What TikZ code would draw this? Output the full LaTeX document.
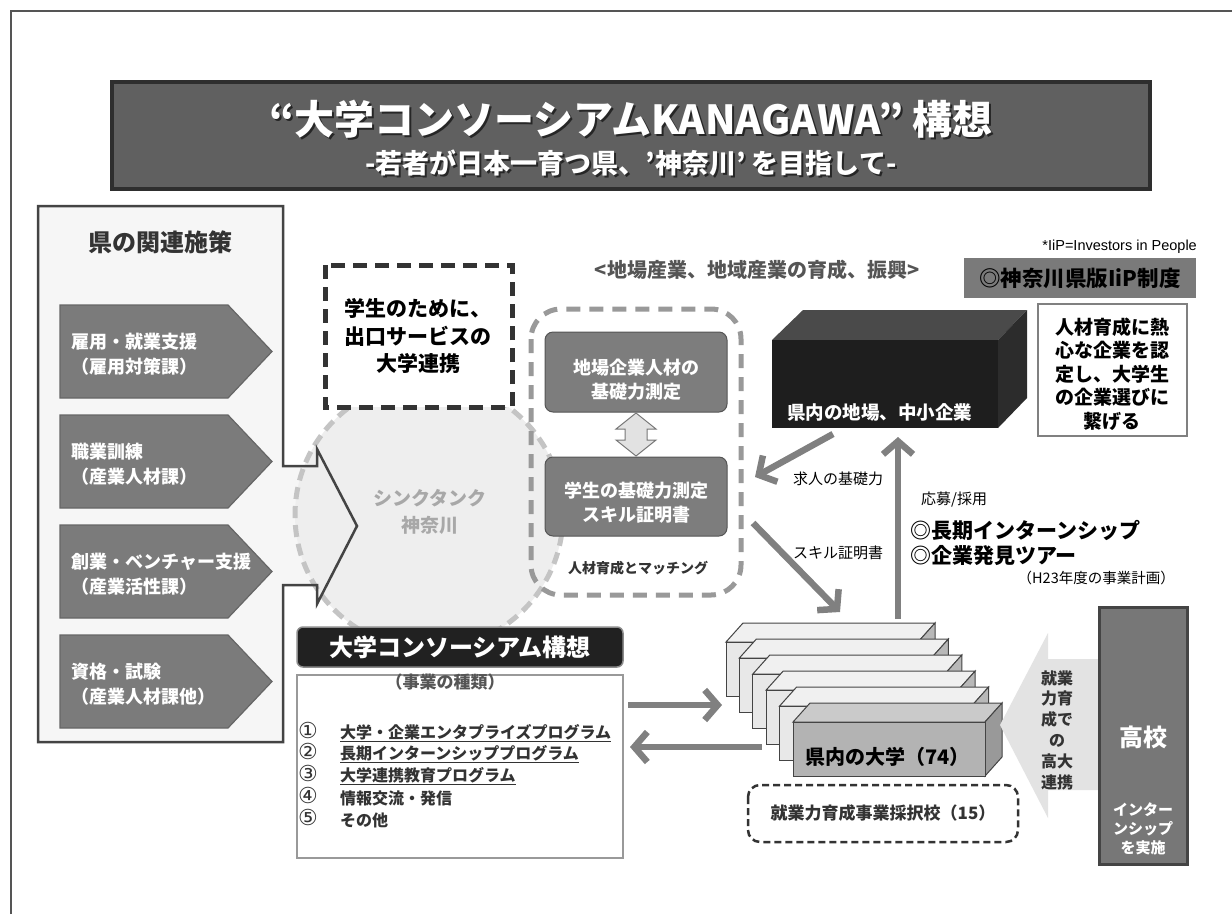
\documentclass[tikz,border=0pt]{standalone}
\usepackage{fontspec}
\setmainfont{Noto Sans CJK JP}
\newfontfamily\arialfont{Liberation Sans}
\newfontfamily\dejavufont{DejaVu Sans}
\usetikzlibrary{arrows.meta}
\newcommand{\myfs}[2]{\fontsize{#1}{#2}\selectfont}
\definecolor{framec}{HTML}{555555}
\definecolor{titlefill}{HTML}{606060}
\definecolor{titledraw}{HTML}{2E2E2E}
\definecolor{panelfill}{HTML}{F6F6F6}
\definecolor{paneldraw}{HTML}{444444}
\definecolor{pentfill}{HTML}{7B7B7B}
\definecolor{pentdraw}{HTML}{666666}
\definecolor{circfill}{HTML}{EEEEEE}
\definecolor{circdraw}{HTML}{C4C4C4}
\definecolor{circtext}{HTML}{A8A8A8}
\definecolor{rbdraw}{HTML}{999999}
\definecolor{innerfill}{HTML}{7D7D7D}
\definecolor{innerdraw}{HTML}{555555}
\definecolor{dblfill}{HTML}{E2E2E2}
\definecolor{dbldraw}{HTML}{777777}
\definecolor{arrc}{HTML}{808080}
\definecolor{darkgray}{HTML}{333333}
\definecolor{midgray}{HTML}{555555}
\definecolor{boxfront}{HTML}{1E1E1E}
\definecolor{boxtop}{HTML}{4A4A4A}
\definecolor{boxside}{HTML}{2C2C2C}
\definecolor{iipfill}{HTML}{7A7A7A}
\definecolor{ufront}{HTML}{E8E8E8}
\definecolor{utop}{HTML}{F0F0F0}
\definecolor{uside}{HTML}{B8B8B8}
\definecolor{u5front}{HTML}{B3B3B3}
\definecolor{u5top}{HTML}{CACACA}
\definecolor{u5side}{HTML}{999999}
\definecolor{larrow}{HTML}{E3E3E3}
\definecolor{kokofill}{HTML}{777777}
\tikzset{
  txt/.style={inner sep=0pt},
  pentshape/.style={fill=pentfill, draw=pentdraw, line width=1.2},
  penttext/.style={anchor=west, inner sep=0pt, text=white, font=\bfseries\myfs{18}{22}},
  bigarrow/.style={draw=arrc, line width=6.5, -{Straight Barb[length=13pt,width=30pt]}},
  smalllabel/.style={inner sep=0pt, font=\myfs{15}{18}, text=black},
  ubox/.style={draw=paneldraw, line width=1},
}
\begin{document}
\begin{tikzpicture}[x=1pt,y=-1pt]
\useasboundingbox (0,0) rectangle (1232,914);
\fill[white] (0,0) rectangle (1232,914);
\draw[framec, line width=2] (11,914) -- (11,11) -- (1232,11);

% title
\draw[fill=titlefill, draw=titledraw, line width=4] (112,82) rectangle (1150,189);
\node[txt, text=black!85, font=\bfseries\myfs{40}{44}] (titlesh) at (633,121) {“大学コンソーシアムKANAGAWA” 構想};
\node[txt, text=white, font=\bfseries\myfs{40}{44}] (title) at (631,119) {“大学コンソーシアムKANAGAWA” 構想};
\node[txt, text=black!85, font=\bfseries\myfs{27}{30}] (subsh) at (633,165) {-若者が日本一育つ県、’神奈川’ を目指して-};
\node[txt, text=white, font=\bfseries\myfs{27}{30}] (sub) at (631,163) {-若者が日本一育つ県、’神奈川’ を目指して-};

% left panel
\fill[panelfill] (38,206) -- (283,206) -- (283,466) -- (317,466) -- (317,449) -- (357,526) -- (317,604) -- (317,585) -- (283,585) -- (283,742) -- (38,742) -- cycle;

% think tank circle
\draw[fill=circfill, draw=circdraw, line width=5, dash pattern=on 12pt off 7pt] (429,515) circle [radius=134];
\node[txt, text=circtext, font=\bfseries\myfs{19}{22}] (tt1) at (430,498) {シンクタンク};
\node[txt, text=circtext, font=\bfseries\myfs{19}{22}] (tt2) at (430,525) {神奈川};

\draw[paneldraw, line width=2.5, line join=miter] (38,206) -- (283,206) -- (283,466) -- (317,466) -- (317,449) -- (357,526) -- (317,604) -- (317,585) -- (283,585) -- (283,742) -- (38,742) -- cycle;
\node[txt, text=darkgray, font=\bfseries\myfs{24}{28}] (panelt) at (160,242) {県の関連施策};

\foreach \t/\la/\lb [count=\i] in {305/雇用・就業支援/（雇用対策課）, 415/職業訓練/（産業人材課）, 525/創業・ベンチャー支援/（産業活性課）, 635/資格・試験/（産業人材課他）} {
  \draw[pentshape] (60,\t) -- (228,\t) -- (272,\t+46.5) -- (228,\t+93) -- (60,\t+93) -- cycle;
  \node[penttext] (pa\i) at (71,\t+37) {\la};
  \node[penttext] (pb\i) at (71,\t+62) {\lb};
}

% exit service dashed box
\draw[fill=white, draw=darkgray, line width=5, dash pattern=on 14pt off 8pt] (325,265) rectangle (512,407);
\node[txt, align=center, text=black, font=\bfseries\myfs{21}{27.5}] (exitsvc) at (418,336) {学生のために、\\出口サービスの\\大学連携};

% heading
\node[txt, text=midgray, font=\bfseries\myfs{20}{24}] (jiba) at (757,270) {<地場産業、地域産業の育成、振興>};

% rounded dashed box
\draw[draw=rbdraw, line width=5, rounded corners=30, dash pattern=on 14pt off 9pt] (531,309) rectangle (741,595);
\draw[fill=innerfill, draw=innerdraw, line width=1, rounded corners=8] (545,332) rectangle (727,412);
\node[txt, align=center, text=white, font=\bfseries\myfs{18}{24}] (inner1) at (636,380) {地場企業人材の\\基礎力測定};
\draw[fill=innerfill, draw=innerdraw, line width=1, rounded corners=8] (545,457) rectangle (727,536);
\node[txt, align=center, text=white, font=\bfseries\myfs{18}{24}] (inner2) at (636,503) {学生の基礎力測定\\スキル証明書};
\draw[fill=dblfill, draw=dbldraw, line width=1] (636,413) -- (656,429) -- (647,429) -- (647,440) -- (656,440) -- (636,456) -- (616,440) -- (625,440) -- (625,429) -- (616,429) -- cycle;
\node[txt, text=darkgray, font=\bfseries\myfs{14}{16}] (match) at (638,568) {人材育成とマッチング};

% black 3D box
\fill[boxtop] (772,340) -- (803,310) -- (1027,310) -- (998,340) -- cycle;
\fill[boxside] (998,340) -- (1027,310) -- (1027,398) -- (998,428) -- cycle;
\fill[boxfront] (772,340) rectangle (998,428);
\node[txt, anchor=west, text=white, font=\bfseries\myfs{18.5}{22}] (kigyo) at (787,412) {県内の地場、中小企業};

% IiP
\node[txt, anchor=east, font=\arialfont\myfs{14.5}{17}] (iipnote) at (1197,247) {*IiP=Investors in People};
\fill[iipfill] (964,258) rectangle (1196,298);
\node[txt, text=black, font=\bfseries\myfs{21.5}{25}] (iip) at (1080,278) {◎神奈川県版IiP制度};
\draw[fill=white, draw=black!50, line width=2] (1038,304) rectangle (1187,436);
\node[txt, align=center, text=black, font=\bfseries\myfs{19}{23.5}] (nintei) at (1112,374) {人材育成に熱\\心な企業を認\\定し、大学生\\の企業選びに\\繋げる};

% arrows middle
\coordinate (a1s) at (833,434);
\coordinate (a1e) at (755,477);
\draw[bigarrow] (a1s) -- (a1e);
\node[smalllabel] (lbl1) at (838,479) {求人の基礎力};
\coordinate (a2s) at (753,523);
\coordinate (a2e) at (840,612);
\draw[bigarrow] (a2s) -- (a2e);
\node[smalllabel] (lbl2) at (838,553) {スキル証明書};
\coordinate (a3s) at (898,619);
\coordinate (a3e) at (898,437);
\draw[bigarrow] (a3s) -- (a3e);
\node[smalllabel, anchor=west] (lbl3) at (921,500) {応募/採用};
\node[txt, anchor=west, text=black, font=\bfseries\myfs{21}{25}] (intern) at (910,530) {◎長期インターンシップ};
\node[txt, anchor=west, text=black, font=\bfseries\myfs{21}{25}] (tour) at (910,556) {◎企業発見ツアー};
\node[txt, anchor=east, font=\myfs{14.5}{17}] (h23) at (1175,578) {（H23年度の事業計画）};

% universities stack
\foreach \i in {0,...,4} {
  \pgfmathsetmacro{\ux}{726+13.4*\i}
  \pgfmathsetmacro{\uy}{642+16*\i}
  \draw[ubox, fill=utop] (\ux,\uy) -- (\ux+17,\uy-19) -- (\ux+209,\uy-19) -- (\ux+192,\uy) -- cycle;
  \draw[ubox, fill=uside] (\ux+192,\uy) -- (\ux+209,\uy-19) -- (\ux+209,\uy+35) -- (\ux+192,\uy+54) -- cycle;
  \draw[ubox, fill=ufront] (\ux,\uy) rectangle (\ux+192,\uy+54);
}
\draw[ubox, fill=u5top] (793,722) -- (810,703) -- (1002,703) -- (985,722) -- cycle;
\draw[ubox, fill=u5side] (985,722) -- (1002,703) -- (1002,757) -- (985,776) -- cycle;
\draw[ubox, fill=u5front] (793,722) rectangle (985,776);
\node[txt, anchor=west, text=black, font=\bfseries\myfs{20}{24}] (univ) at (805,757) {県内の大学（74）};

\draw[draw=darkgray, line width=2.5, rounded corners=12, dash pattern=on 7pt off 4pt] (748,785) rectangle (1018,842);
\node[txt, text=darkgray, font=\bfseries\myfs{17}{20}] (saitaku) at (883,813) {就業力育成事業採択校（15）};

% high school arrow and box
\fill[larrow] (1099,659) -- (1048,659) -- (1048,633) -- (1000,725) -- (1048,818) -- (1048,790) -- (1099,790) -- cycle;
\node[txt, align=center, text=darkgray, font=\bfseries\myfs{16}{20.8}] (kodai) at (1057,730) {就業\\力育\\成で\\の\\高大\\連携};
\draw[fill=kokofill, draw=paneldraw, line width=3] (1099,607) rectangle (1187,864);
\node[txt, text=white, font=\bfseries\myfs{24}{28}] (koko) at (1143,737) {高校};
\node[txt, align=center, text=white, font=\bfseries\myfs{15}{19}] (kokoint) at (1143,829) {インター\\ンシップ\\を実施};

% consortium list
\draw[fill=black!87, draw=black!45, line width=1.5, rounded corners=6] (297,627) rectangle (623,667);
\node[txt, text=white, font=\bfseries\myfs{24}{28}] (cons) at (460,647) {大学コンソーシアム構想};
\draw[fill=white, draw=black!40, line width=1.5] (297,675) rectangle (623,858);
\node[txt, text=midgray, font=\bfseries\myfs{17}{20}] (shurui) at (445,682) {（事業の種類）};
\foreach \n/\s/\y [count=\i] in {①/\underline{大学・企業エンタプライズプログラム}/733, ②/\underline{長期インターンシッププログラム}/754, ③/\underline{大学連携教育プログラム}/776, ④/情報交流・発信/798, ⑤/その他/820} {
  \node[txt, anchor=west, text=darkgray, font=\dejavufont\myfs{22}{24}, text height=14pt, text depth=3pt] (num\i) at (298,\y) {\n};
  \node[txt, anchor=west, text=darkgray, font=\bfseries\myfs{16}{20}] (item\i) at (340,\y) {\s};
}

% arrows list <-> universities
\coordinate (a4s) at (628,705);
\coordinate (a4e) at (722,705);
\draw[bigarrow] (a4s) -- (a4e);
\coordinate (a5s) at (762,747);
\coordinate (a5e) at (630,747);
\draw[bigarrow] (a5s) -- (a5e);
\end{tikzpicture}
\end{document}
